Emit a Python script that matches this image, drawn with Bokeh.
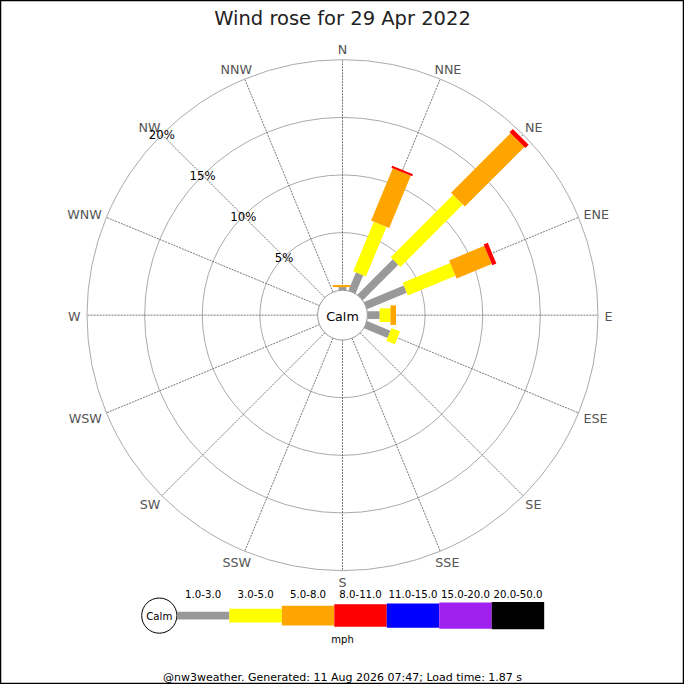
import math

from bokeh.plotting import figure
from bokeh.models import Range1d
from bokeh.core.properties import value
from bokeh.embed import file_html
from bokeh.resources import INLINE


# Data ######################################################

title = 'Wind rose for 29 Apr 2022'
footer = '@nw3weather. Generated: 11 Aug 2026 07:47; Load time: 1.87 s'

directions = ['N', 'NNE', 'NE', 'ENE', 'E', 'ESE', 'SE', 'SSE',
              'S', 'SSW', 'SW', 'WSW', 'W', 'WNW', 'NW', 'NNW']

speed_bands = ['1.0-3.0', '3.0-5.0', '5.0-8.0', '8.0-11.0',
               '11.0-15.0', '15.0-20.0', '20.0-50.0']
speed_unit = 'mph'

# percent of the day per direction, one list per speed band
band_1_3 = [0.27, 1.72, 4.35, 3.73, 1.06, 2.2, 0, 0, 0, 0, 0, 0, 0, 0, 0, 0]
band_3_5 = [0, 4.65, 7.65, 4.47, 0.94, 0.8, 0, 0, 0, 0, 0, 0, 0, 0, 0, 0]
band_5_8 = [0.18, 4.9, 7.3, 3.3, 0.48, 0, 0, 0, 0, 0, 0, 0, 0, 0, 0, 0]
band_8_11 = [0, 0.2, 0.4, 0.38, 0, 0, 0, 0, 0, 0, 0, 0, 0, 0, 0, 0]
band_11_15 = [0] * 16
band_15_20 = [0] * 16
band_20_50 = [0] * 16
bands = [band_1_3, band_3_5, band_5_8, band_8_11, band_11_15, band_15_20, band_20_50]

ring_pcts = [5, 10, 15, 20]
ring_labels = ['5%', '10%', '15%', '20%']

# Style ######################################################

band_colors = ['#999999', '#ffff00', '#ffa500', '#ff0000', '#0000ff', '#a020f0', '#000000']
band_thick = [8, 14, 20, 23, 25, 27, 28]

S = 684 / 700          # page px per reference px
FONT = value('DejaVu Sans')
cx, cy = 350, 322      # rose centre
calm_r = 25.5
px_per_pct = 11.8


def fs(px):
    return '%.1fpx' % (px * S)


def rad(pct):
    return calm_r + px_per_pct * pct


def pos(r, deg):
    a = math.radians(deg)
    return cx + r * math.sin(a), cy - r * math.cos(a)


# Figure ######################################################

p = figure(width=684, height=684, x_range=Range1d(0, 700), y_range=Range1d(700, 0),
           x_axis_type=None, y_axis_type=None, toolbar_location=None,
           output_backend='svg', min_border=0)
p.grid.visible = False
p.outline_line_color = 'black'
p.outline_line_width = 1.5
p.background_fill_color = 'white'

outer = rad(ring_pcts[-1])

# rings
p.circle([cx] * len(ring_pcts), [cy] * len(ring_pcts), radius=[rad(v) for v in ring_pcts],
         fill_color=None, line_color='#aaaaaa', line_width=1)

# spokes
angles = [i * 360 / len(directions) for i in range(len(directions))]
x0s, y0s, x1s, y1s = [], [], [], []
for ang in angles:
    a0 = pos(calm_r, ang)
    a1 = pos(outer, ang)
    x0s.append(a0[0]); y0s.append(a0[1]); x1s.append(a1[0]); y1s.append(a1[1])
p.segment(x0s, y0s, x1s, y1s, line_color='#555555', line_width=0.8, line_dash='2 1')

# bars
xs, ys, cols = [], [], []
for i, ang in enumerate(angles):
    cum = 0
    a = math.radians(ang)
    nx, ny = math.cos(a), math.sin(a)
    for b, band in enumerate(bands):
        v = band[i]
        if v <= 0:
            continue
        r0, r1 = rad(cum), rad(cum + v)
        h = band_thick[b] / 2
        p0 = pos(r0, ang)
        p1 = pos(r1, ang)
        xs.append([p0[0] - h * nx, p1[0] - h * nx, p1[0] + h * nx, p0[0] + h * nx])
        ys.append([p0[1] - h * ny, p1[1] - h * ny, p1[1] + h * ny, p0[1] + h * ny])
        cols.append(band_colors[b])
        cum += v
p.patches(xs, ys, fill_color=cols, line_color=None)

# calm circle
p.circle([cx], [cy], radius=calm_r, fill_color='white', line_color='#999999', line_width=1)
p.text([cx], [cy + 1], text=['Calm'], text_align='center', text_baseline='middle',
       text_font=FONT, text_font_size=fs(13), text_color='black')

# direction labels
adv = {'N': 0.748, 'E': 0.632, 'S': 0.635, 'W': 0.989}
lx, ly = [], []
for d, ang in zip(directions, angles):
    w = sum(adv[c] for c in d) * 13
    ax, ay = pos(outer + 6.5, ang)
    a = math.radians(ang)
    lx.append(ax + w / 2 * math.sin(a))
    ly.append(ay - 4.75 * math.cos(a) + 1)
p.text(lx, ly, text=directions, text_align='center', text_baseline='middle',
       text_font=FONT, text_font_size=fs(13), text_color='#555555')

# percent labels along NW
px_, py_ = [], []
for v in ring_pcts:
    q = pos(rad(v), 315)
    px_.append(q[0]); py_.append(q[1] + 1)
p.text(px_, py_, text=ring_labels, text_align='center', text_baseline='middle',
       text_font=FONT, text_font_size=fs(12), text_color='black')

# title
p.text([350], [18], text=[title], text_align='center', text_baseline='middle',
       text_font=FONT, text_font_size=fs(20), text_color='#222222')

# legend
leg_y = 629.5
seg_w = 53.7
leg_x0 = 180.5
p.circle([162.5], [leg_y], radius=18, fill_color='white', line_color='black', line_width=1)
p.text([162.5], [leg_y + 0.5], text=['Calm'], text_align='center', text_baseline='middle',
       text_font=FONT, text_font_size=fs(10.4), text_color='black')
lefts = [leg_x0 + k * seg_w for k in range(len(speed_bands))]
rights = [l + seg_w for l in lefts]
tops = [leg_y - t / 2 for t in band_thick]
bottoms = [leg_y + t / 2 for t in band_thick]
p.quad(left=lefts, right=rights, top=tops, bottom=bottoms, fill_color=band_colors, line_color=None)
p.text([l + seg_w / 2 for l in lefts], [607.5] * len(speed_bands), text=speed_bands,
       text_align='center', text_baseline='middle',
       text_font=FONT, text_font_size=fs(10.4), text_color='black')
p.text([350], [654], text=[speed_unit], text_align='center', text_baseline='middle',
       text_font=FONT, text_font_size=fs(10.2), text_color='black')

# footer
p.text([350], [692.5], text=[footer], text_align='center', text_baseline='middle',
       text_font=FONT, text_font_size=fs(11.3), text_color='black')

open('out.html', 'w').write(file_html(p, INLINE))
